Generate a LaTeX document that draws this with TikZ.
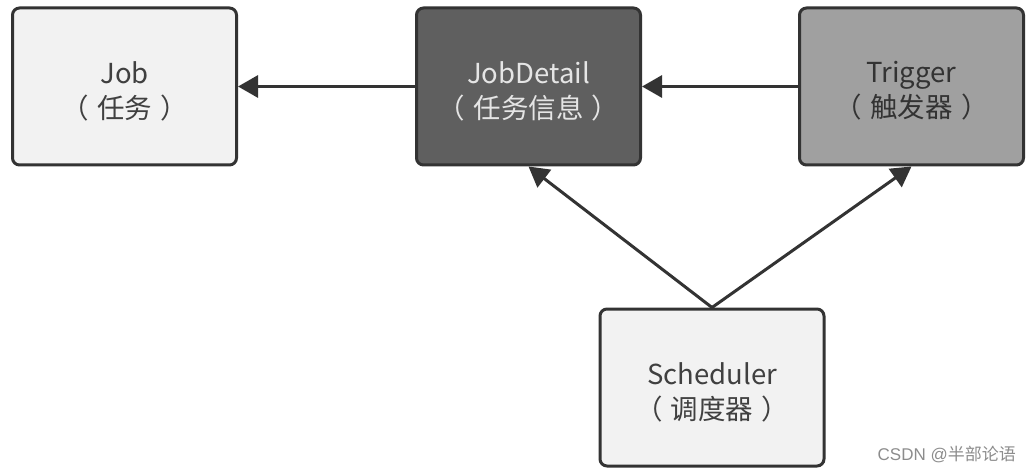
\documentclass[tikz,border=0pt]{standalone}
\usepackage{fontspec}
\setmainfont{Noto Sans CJK SC}
\newfontfamily\wmfont{Liberation Sans}
\newfontfamily\wmcjk{Noto Sans CJK SC}
\usetikzlibrary{arrows.meta}
\definecolor{edge}{HTML}{333333}
\definecolor{lightfill}{HTML}{F2F2F2}
\definecolor{darkfill}{HTML}{5F5F5F}
\definecolor{midfill}{HTML}{A0A0A0}
\definecolor{txt}{HTML}{404040}
\newcommand{\pr}[1]{（\hspace{0.3em}#1\hspace{0.3em}）}
\tikzset{
  box/.style={draw=edge, line width=3pt, rounded corners=7pt, minimum width=224pt, minimum height=157pt, inner sep=0pt},
  lbl/.style={align=center, font=\fontsize{27.5}{35}\selectfont, text=txt, inner sep=0pt, yshift=-4.5pt},
  conn/.style={draw=edge, line width=3pt, -{Triangle[length=20pt,width=22pt]}},
}
\begin{document}
\begin{tikzpicture}[x=1pt,y=-1pt]
\useasboundingbox (0,0) rectangle (1032,473);
\node[box, fill=lightfill, label={[lbl]center:Job\\\pr{任务}}] (job) at (124.5,86.5) {};
\node[box, fill=darkfill, label={[lbl, text=white!90!black]center:JobDetail\\\pr{任务信息}}] (jd) at (528.5,86.5) {};
\node[box, fill=midfill, label={[lbl, text=edge]center:Trigger\\\pr{触发器}}] (trig) at (911.5,86.5) {};
\node[box, fill=lightfill, label={[lbl]center:Scheduler\\\pr{调度器}}] (sch) at (712,387.5) {};
\draw[conn] (jd.west) -- (job.east);
\draw[conn] (trig.west) -- (jd.east);
\draw[conn] (sch.north) -- (jd.south);
\draw[conn] (sch.north) -- (trig.south);
\node[anchor=south east, text=black!45, font=\fontsize{17}{20}\selectfont, inner sep=0pt] (wm) at (1016,463) {\wmfont CSDN @\wmcjk 半部论语};
\end{tikzpicture}
\end{document}
